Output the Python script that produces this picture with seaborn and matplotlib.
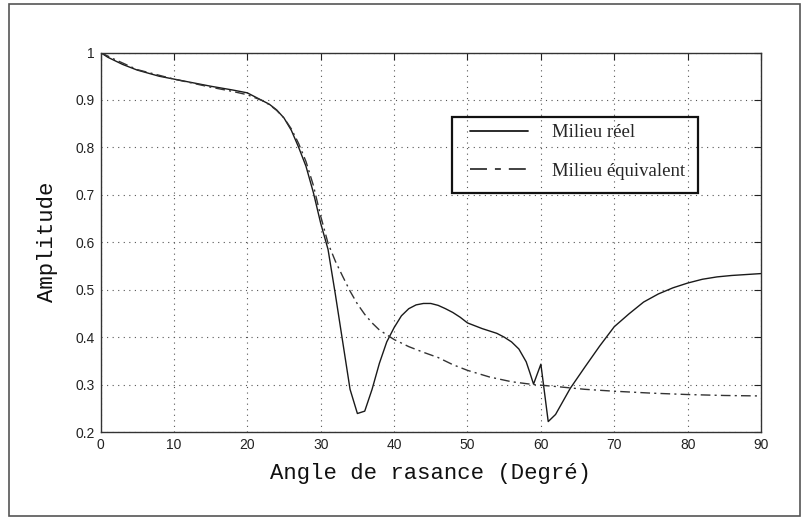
import matplotlib
matplotlib.use("Agg")
import matplotlib.pyplot as plt
import matplotlib.patches as mpatches
import seaborn as sns
import pandas as pd

# ---- data ----
angle_reel = [0, 1, 3, 5, 8, 10, 13, 15, 18, 20, 22, 23, 24, 25, 26, 27, 28, 29, 30,
              31, 32, 33, 34, 35, 36, 37, 38, 39, 40, 41, 42, 43, 44, 45, 46, 47,
              48, 49, 50, 52, 54, 55, 56, 57, 58, 58.5, 59, 60, 61, 62, 64, 66,
              68, 70, 72, 74, 76, 78, 80, 82, 84, 86, 88, 90]
amp_reel = [1.0, 0.99, 0.975, 0.963, 0.95, 0.944, 0.935, 0.929, 0.921, 0.915,
            0.899, 0.891, 0.879, 0.862, 0.836, 0.80, 0.76, 0.705, 0.64,
            0.585, 0.49, 0.39, 0.29, 0.239, 0.244, 0.29, 0.345, 0.39, 0.42,
            0.445, 0.46, 0.468, 0.471, 0.471, 0.467, 0.46, 0.452, 0.442, 0.43,
            0.418, 0.408, 0.40, 0.39, 0.375, 0.348, 0.325, 0.301, 0.343, 0.222,
            0.237, 0.292, 0.337, 0.381, 0.422, 0.449, 0.474, 0.491, 0.504, 0.514,
            0.522, 0.527, 0.530, 0.532, 0.534]

angle_equiv = [0, 2, 5, 10, 15, 18, 20, 22, 23, 24, 25, 26, 27, 28, 29, 30, 31, 32,
               33, 34, 35, 36, 37, 38, 39, 40, 42, 44, 46, 48, 50, 53, 56, 59,
               62, 66, 70, 75, 80, 85, 90]
amp_equiv = [1.0, 0.985, 0.964, 0.944, 0.927, 0.918, 0.911, 0.899, 0.890, 0.878,
             0.862, 0.839, 0.808, 0.770, 0.720, 0.655, 0.598, 0.56, 0.528, 0.497,
             0.47, 0.448, 0.43, 0.415, 0.405, 0.395, 0.38, 0.368, 0.357, 0.342,
             0.33, 0.316, 0.306, 0.300, 0.296, 0.290, 0.286, 0.282, 0.279, 0.277,
             0.276]

label_reel = "Milieu réel"
label_equiv = "Milieu équivalent"
xlabel = "Angle de rasance (Degré)"
ylabel = "Amplitude"
xticks = [0, 10, 20, 30, 40, 50, 60, 70, 80, 90]
yticks = [0.2, 0.3, 0.4, 0.5, 0.6, 0.7, 0.8, 0.9, 1.0]
ytick_labels = ["0.2", "0.3", "0.4", "0.5", "0.6", "0.7", "0.8", "0.9", "1"]

df_reel = pd.DataFrame({"angle": angle_reel, "amp": amp_reel})
df_equiv = pd.DataFrame({"angle": angle_equiv, "amp": amp_equiv})

sns.set_style("white")
plt.rcParams["font.family"] = ["Liberation Sans", "DejaVu Sans"]

fig = plt.figure(figsize=(8.08, 5.18), dpi=100)
ax = fig.add_axes([0.1244, 0.166, 0.8175, 0.7326])

sns.lineplot(data=df_reel, x="angle", y="amp", ax=ax, color="#1a1a1a",
             linewidth=1.0, label=label_reel, sort=False)
sns.lineplot(data=df_equiv, x="angle", y="amp", ax=ax, color="#333333",
             linewidth=1.0, label=label_equiv, sort=False)
ax.lines[1].set_dashes([7, 3, 1.5, 3])

ax.set_xlim(0, 90)
ax.set_ylim(0.2, 1.0)
ax.set_xticks(xticks)
ax.set_yticks(yticks)
ax.set_yticklabels(ytick_labels)
ax.tick_params(axis="both", labelsize=10, direction="in", length=5, width=0.8,
               top=True, right=True, colors="#222222", pad=4)
ax.grid(True, linestyle=(0, (1, 4)), color="#555555", linewidth=0.8)
for s in ax.spines.values():
    s.set_color("#333333")
    s.set_linewidth(1.0)

ax.set_xlabel(xlabel, family=["Liberation Mono", "DejaVu Sans Mono"],
              fontsize=16, labelpad=8, color="#111111")
ax.set_ylabel(ylabel, family=["Liberation Mono", "DejaVu Sans Mono"],
              fontsize=16, labelpad=13, color="#111111")

leg = ax.legend(loc="upper left", bbox_to_anchor=(0.5594, 0.8116),
                prop={"family": ["Liberation Serif", "DejaVu Serif"], "size": 13.5},
                frameon=False, handlelength=3.1, handletextpad=1.28,
                borderpad=0, labelspacing=1.15, borderaxespad=0)
hl = leg.get_lines()
for h in hl:
    h.set_linewidth(1.3)
hl[1].set_dashes([9.4, 4.4, 3.3, 4.4])

# legend frame box
ax.add_patch(mpatches.Rectangle((0.5322, 0.6298), 0.3724, 0.2003,
                                transform=ax.transAxes, fill=False,
                                edgecolor="#111111", linewidth=1.6, zorder=5))

fig.patches.append(mpatches.Rectangle((0.011, 0.004), 0.979, 0.988,
                                      transform=fig.transFigure, fill=False,
                                      edgecolor="#555555", linewidth=1.2))

fig.savefig("out.png", dpi=100)
